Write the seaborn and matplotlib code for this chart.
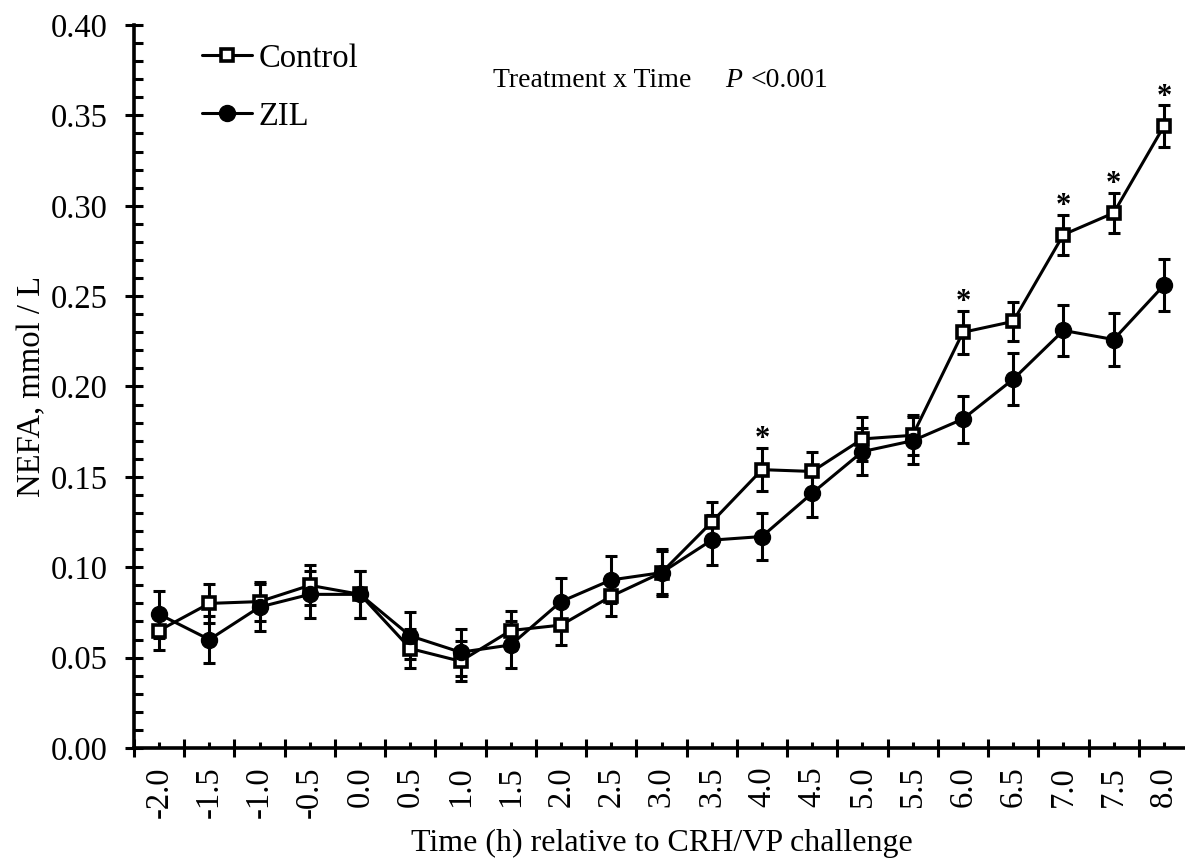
import numpy as np
import pandas as pd
import matplotlib
matplotlib.use("Agg")
import matplotlib.pyplot as plt
from matplotlib.ticker import MultipleLocator, FixedLocator, FormatStrFormatter
import seaborn as sns

# Sampling times (h) relative to the CRH/VP challenge
time_labels = ["-2.0", "-1.5", "-1.0", "-0.5", "0.0", "0.5", "1.0", "1.5", "2.0", "2.5",
               "3.0", "3.5", "4.0", "4.5", "5.0", "5.5", "6.0", "6.5", "7.0", "7.5", "8.0"]

# NEFA means (mmol/L) and SEM
control_mean = [0.065, 0.080, 0.081, 0.090, 0.085, 0.055, 0.048, 0.065, 0.068, 0.084,
                0.097, 0.125, 0.154, 0.153, 0.171, 0.173, 0.230, 0.236, 0.284, 0.296, 0.344]
control_sem = [0.011, 0.011, 0.011, 0.011, 0.013, 0.011, 0.011, 0.011, 0.011, 0.011,
               0.012, 0.011, 0.012, 0.011, 0.012, 0.011, 0.012, 0.011, 0.011, 0.011, 0.0115]
zil_mean = [0.074, 0.060, 0.078, 0.085, 0.085, 0.062, 0.053, 0.057, 0.081, 0.093,
            0.097, 0.115, 0.117, 0.141, 0.164, 0.170, 0.182, 0.204, 0.231, 0.226, 0.256]
zil_sem = [0.013, 0.013, 0.013, 0.013, 0.013, 0.013, 0.013, 0.013, 0.013, 0.013,
           0.013, 0.014, 0.013, 0.013, 0.013, 0.013, 0.013, 0.0145, 0.014, 0.0145, 0.0145]

# Time points with a significant treatment difference
significant = ["4.0", "6.0", "7.0", "7.5", "8.0"]

sns.set_theme(style="ticks")
plt.rcParams["font.family"] = ["Liberation Serif", "DejaVu Serif"]
plt.rcParams.update({"text.color": "black", "axes.labelcolor": "black",
                     "xtick.color": "black", "ytick.color": "black"})

FS = 23.5
W, H = 1185, 863
fig = plt.figure(figsize=(W / 100, H / 100), dpi=100)
x0, x1, y0, y1 = 134, 1189, 25, 748
ax = fig.add_axes([x0 / W, 1 - y1 / H, (x1 - x0) / W, (y1 - y0) / H])

pos = np.arange(len(time_labels))
df = pd.DataFrame({
    "pos": np.concatenate([pos, pos]),
    "nefa": control_mean + zil_mean,
    "err": control_sem + zil_sem,
    "group": ["Control"] * len(pos) + ["ZIL"] * len(pos),
})
ctrl = df[df["group"] == "Control"]
zil = df[df["group"] == "ZIL"]

lw = 2.2
# Error bars
for sub in (ctrl, zil):
    ax.errorbar(sub["pos"], sub["nefa"], yerr=sub["err"], fmt="none", ecolor="black",
                elinewidth=lw, capsize=4.5, capthick=lw, zorder=2)

sns.lineplot(data=ctrl, x="pos", y="nefa", color="black", lw=lw, marker="s",
             markersize=8.8, markerfacecolor="white", markeredgecolor="black",
             markeredgewidth=2.6, label="Control", ax=ax, zorder=3)
sns.lineplot(data=zil, x="pos", y="nefa", color="black", lw=lw, marker="o",
             markersize=11.5, markerfacecolor="black", markeredgecolor="black",
             markeredgewidth=1, label="ZIL", ax=ax, zorder=4)

# Significance markers above the Control error bars
for lab in significant:
    i = time_labels.index(lab)
    top = control_mean[i] + control_sem[i]
    ax.text(i, top + 0.0005, "*", ha="center", va="baseline", fontsize=22,
            fontweight="bold", color="black")

ax.set_xlim(-0.5, len(time_labels) - 0.5)
ax.set_ylim(0, 0.40)
ax.yaxis.set_major_locator(MultipleLocator(0.05))
ax.yaxis.set_minor_locator(MultipleLocator(0.01))
ax.yaxis.set_major_formatter(FormatStrFormatter("%.2f"))
ax.xaxis.set_major_locator(FixedLocator(np.arange(-0.5, len(time_labels), 1.0)))
ax.xaxis.set_minor_locator(FixedLocator(pos))
ax.set_xticklabels([])
ax.set_xticks(pos, labels=time_labels, minor=True)

for sp in ("top", "right"):
    ax.spines[sp].set_visible(False)
for sp in ("left", "bottom"):
    ax.spines[sp].set_linewidth(2.6)
    ax.spines[sp].set_color("black")

ax.tick_params(axis="both", which="major", direction="inout", length=13.5,
               width=2.2, color="black", labelsize=FS, labelcolor="black")
ax.tick_params(axis="y", which="minor", direction="in", length=6.5, width=2.2,
               color="black")
ax.tick_params(axis="y", which="major", pad=12)
ax.tick_params(axis="x", which="minor", direction="in", length=4.5, width=2.2,
               color="black", labelsize=FS, labelcolor="black", labelrotation=90,
               pad=13)

ax.set_xlabel("Time (h) relative to CRH/VP challenge", fontsize=23, labelpad=8,
              color="black")
ax.set_ylabel("NEFA, mmol / L", fontsize=FS, labelpad=3, color="black")

leg = ax.legend(loc="upper left", bbox_to_anchor=(0.064, 0.975), frameon=False,
                fontsize=FS, handlelength=1.55, handletextpad=0.2,
                labelspacing=0.85, borderpad=0, borderaxespad=0)
for t in leg.get_texts():
    t.set_color("black")

fig.text(493 / W, 1 - 87 / H, "Treatment x Time", fontsize=20, ha="left",
         va="baseline", color="black")
fig.text(725 / W, 1 - 87 / H, "P", fontsize=20, style="italic", ha="left",
         va="baseline", color="black")
fig.text(751 / W, 1 - 87 / H, "<0.001", fontsize=20, ha="left", va="baseline",
         color="black")

fig.savefig("out.png", dpi=100, facecolor="white")
